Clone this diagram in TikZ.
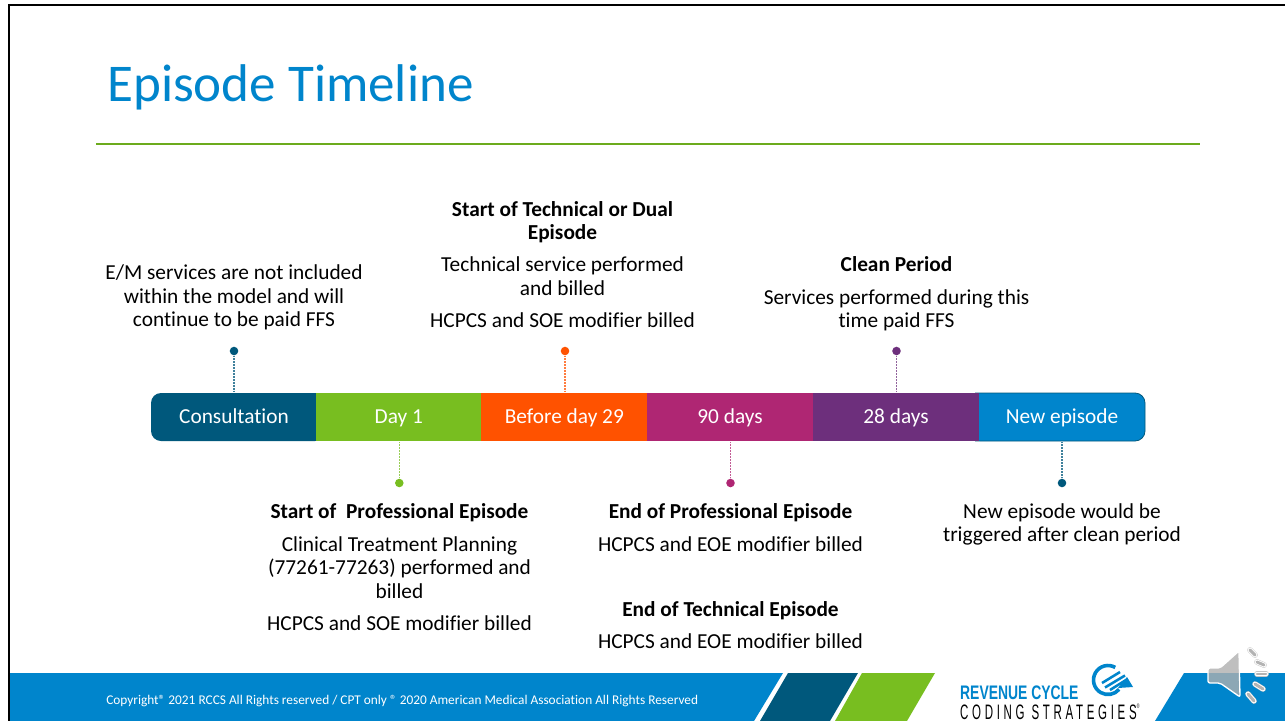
\documentclass[tikz,border=0pt]{standalone}
\usepackage{fontspec}
\setmainfont{Carlito}[Ligatures=NoCommon]
\newfontfamily\logofont{Liberation Sans}[LetterSpace=32]
\newfontfamily\logobold{Liberation Sans}[BoldFont={Liberation Sans Bold}]
\definecolor{rblue}{HTML}{0085CC}
\definecolor{rnavy}{HTML}{00587C}
\definecolor{rgreen}{HTML}{78BE20}
\definecolor{rorange}{HTML}{FF5200}
\definecolor{rmag}{HTML}{AF2673}
\definecolor{rpurple}{HTML}{6D2F7C}
\tikzset{
  seg/.style={minimum width=165.9*0.75pt,minimum height=48*0.75pt,inner sep=0pt,text=white,font=\fontsize{16}{19}\selectfont,text height=12.5pt,text depth=2.5pt},
  body/.style={align=center,inner sep=0pt,font=\fontsize{16}{17.5}\selectfont,text=black},
  pin/.style={circle,inner sep=0pt,minimum size=6.4pt},
  link/.style={line width=0.85pt,dash pattern=on 1.3pt off 0.9pt,draw opacity=0.75},
  band/.style={fill=rblue},
}
\begin{document}
\begin{tikzpicture}[x=0.75pt,y=-0.75pt]
\useasboundingbox (0,0) rectangle (1285,721);
\fill[white] (0,0) rectangle (1285,721);
% frame
\draw[line width=2.1pt,black] (9,721) -- (9,5) -- (1285,5);
% title
\node[anchor=base west,inner sep=0pt,text=rblue,font=\fontsize{39.8}{46}\selectfont] (title) at (107,101) {Episode Timeline};
\coordinate (ruleL) at (96,144); \coordinate (ruleR) at (1200,144);
\draw[rgreen!90!black,line width=1.3pt] (ruleL) -- (ruleR);
% bar ends
\fill[rnavy,rounded corners=7.5pt] (151,393) rectangle (325,441);
\fill[rblue,rounded corners=7.5pt] (970,393) rectangle (1145,441);
\draw[rnavy,line width=0.6pt,rounded corners=7.5pt] (975,393) -- (1145,393) -- (1145,441) -- (975,441);
% bar
\node[seg,fill=none] (s1) at (234,417) {Consultation};
\node[seg,fill=rgreen] (s2) at (398.8,417) {Day 1};
\node[seg,fill=rorange] (s3) at (564.3,417) {Before day 29};
\node[seg,fill=rmag] (s4) at (730,417) {90 days};
\node[seg,fill=rpurple] (s5) at (896,417) {28 days};
\node[seg,fill=none] (s6) at (1062,417) {New episode};
% pins
\node[pin,fill=rnavy] (p1) at (234,351) {};
\node[pin,fill=rgreen] (p2) at (399.3,483) {};
\node[pin,fill=rorange] (p3) at (565,351) {};
\node[pin,fill=rmag] (p4) at (730.5,483) {};
\node[pin,fill=rpurple] (p5) at (896.5,351) {};
\node[pin,fill=rnavy] (p6) at (1062,483) {};
\draw[link,rnavy] (p1) -- (p1 |- s1.north);
\draw[link,rgreen] (p2) -- (p2 |- s2.south);
\draw[link,rorange] (p3) -- (p3 |- s3.north);
\draw[link,rmag] (p4) -- (p4 |- s4.south);
\draw[link,rpurple] (p5) -- (p5 |- s5.north);
\draw[link,rnavy] (p6) -- (p6 |- s6.south);
% text above
\node[body,anchor=base] (t1) at (234,326.5) {E/M services are not included\\within the model and will\\continue to be paid FFS};
\node[body,anchor=base] (t3a) at (562.5,239.5) {\textbf{Start of Technical or Dual}\\\textbf{Episode}};
\node[body,anchor=base] (t3b) at (562.5,295) {Technical service performed\\and billed};
\node[body,anchor=base] (t3c) at (562.5,327.5) {HCPCS and SOE modifier billed};
\node[body,anchor=base] (t5a) at (896.5,271) {\textbf{Clean Period}};
\node[body,anchor=base] (t5b) at (896.5,327.5) {Services performed during this\\time paid FFS};
% text below
\node[body,anchor=base] (t2a) at (399.5,518) {\textbf{Start of\ \ Professional Episode}};
\node[body,anchor=base] (t2b) at (399.5,598) {Clinical Treatment Planning\\(77261-77263) performed and\\billed};
\node[body,anchor=base] (t2c) at (399.5,630) {HCPCS and SOE modifier billed};
\node[body,anchor=base] (t4a) at (730.5,518) {\textbf{End of Professional Episode}};
\node[body,anchor=base] (t4b) at (730.5,551) {HCPCS and EOE modifier billed};
\node[body,anchor=base] (t4c) at (730.5,616) {\textbf{End of Technical Episode}};
\node[body,anchor=base] (t4d) at (730.5,648) {HCPCS and EOE modifier billed};
\node[body,anchor=base] (t6) at (1062,541.5) {New episode would be\\triggered after clean period};
% footer
\fill[band] (10,673) -- (783,673) -- (754,721) -- (10,721) -- cycle;
\fill[rnavy] (788,673) -- (858,673) -- (830,721) -- (760,721) -- cycle;
\fill[rgreen] (862,673) -- (935,673) -- (907,721) -- (835,721) -- cycle;
\fill[band] (1184,673) -- (1285,673) -- (1285,721) -- (1155,721) -- cycle;
\node[anchor=base west,inner sep=0pt,text=white,font=\fontsize{10}{12}\selectfont] (copy) at (106,704) {Copyright® 2021 RCCS All Rights reserved / CPT only ® 2020 American Medical Association All Rights Reserved};
% logo
\node[anchor=base west,inner sep=0pt,text=rblue,font=\logobold\bfseries\fontsize{14.7}{17}\selectfont,xscale=0.71,transform shape] (logoa) at (960,699) {REVENUE CYCLE};
\node[anchor=base west,inner sep=0pt,text=black,font=\logofont\fontsize{15.7}{17}\selectfont,xscale=0.55,transform shape] (logob) at (960,719) {CODING STRATEGIES\raisebox{0.5em}{\fontsize{5}{5}\selectfont ®}};
\draw[rblue,line width=2.7pt] (1115.25,667.44) arc[start angle=-60,end angle=-320,radius=14.5];
\fill[rblue] (1118,688) -- (1127,677) -- (1133,687) -- cycle;
\draw[rblue,line width=1.9pt] (1102,683) -- (1120,672);
\draw[rblue,line width=1.9pt] (1105,687.5) -- (1125,675.5);
\draw[rblue,line width=1.9pt] (1110,690) -- (1126,680);
% speaker
\path[fill=gray!62,fill opacity=0.8,draw=white,line width=1pt,rounded corners=1.5pt] (1208,668) -- (1220,668) -- (1239,651) -- (1240,697) -- (1220,683) -- (1208,683) -- cycle;
\foreach \a/\b/\c/\d in {1250/650/1255/655,1257/662/1264/665,1257/674/1266/674,1255/684/1263/689,1248/694/1254/701}{
  \draw[gray!45,line width=4.2pt,line cap=round] (\a,\b) -- (\c,\d);
  \draw[white,line width=3.5pt,line cap=round] (\a,\b) -- (\c,\d);
  \draw[gray!70,draw opacity=0.85,line width=2.2pt,line cap=round] (\a,\b) -- (\c,\d);
}
\end{tikzpicture}
\end{document}
